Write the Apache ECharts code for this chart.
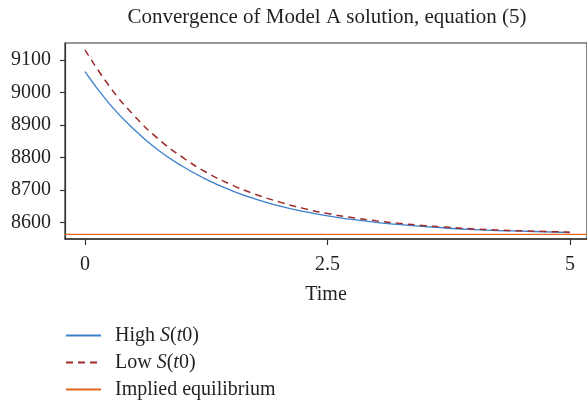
<!DOCTYPE html>
<html>
<head>
<meta charset="utf-8">
<script src="https://cdn.jsdelivr.net/npm/echarts@6/dist/echarts.min.js"></script>
<style>html,body{margin:0;padding:0;background:#fff}#c{width:587px;height:400px}</style>
</head>
<body>
<div id="c"></div>
<script>
var titleText = 'Convergence of Model A solution, equation (5)';
var xTitle = 'Time';
var time = [0, 0.25, 0.5, 0.75, 1.0, 1.25, 1.5, 1.75, 2.0, 2.25, 2.5, 2.75, 3.0, 3.25, 3.5, 3.75, 4.0, 4.25, 4.5, 4.75, 5.0];
var highS = [9064, 8966, 8888, 8824, 8774, 8733, 8700, 8673, 8652, 8635, 8621, 8610, 8601, 8594, 8588, 8583, 8579, 8576, 8574, 8572, 8570];
var lowS = [9131, 9020, 8931, 8859, 8802, 8755, 8718, 8688, 8664, 8644, 8628, 8616, 8606, 8598, 8591, 8586, 8581, 8578, 8575, 8573, 8571];
var equilibrium = 8564;
var xTicks = [0, 2.5, 5];
var yTicks = [8600, 8700, 8800, 8900, 9000, 9100];
var xRange = [-0.206, 5.175];
var yRange = [8550, 9152];
var seriesNames = ['High S(t0)', 'Low S(t0)', 'Implied equilibrium'];

var font = 'Liberation Serif';
var fs = 20;
var txt = '#231f20';
var chart = echarts.init(document.getElementById('c'), null, {renderer: 'canvas'});
function pairs(xs, ys) { return xs.map(function (x, i) { return [x, ys[i]]; }); }
var option = {
  animation: false,
  backgroundColor: '#fff',
  title: {
    text: titleText, left: 327, top: 7, padding: 0, textAlign: 'center',
    textStyle: {fontFamily: font, fontSize: 21, fontWeight: 'normal', color: txt}
  },
  grid: {left: 65, top: 43, right: -2, bottom: 161, show: true, borderColor: '#333', borderWidth: 1.2},
  legend: {
    orient: 'vertical', left: 65, top: 325, padding: 0, itemWidth: 35, itemHeight: 14, itemGap: 6,
    height: 75,
    itemStyle: {opacity: 0},
    textStyle: {
      fontFamily: font, fontSize: fs, color: txt, padding: [0, 0, 0, 9], lineHeight: 21,
      rich: {
        a: {fontFamily: font, fontSize: fs, color: txt, lineHeight: 21},
        i: {fontFamily: font, fontSize: fs, fontStyle: 'italic', color: txt, lineHeight: 21}
      }
    },
    formatter: function (name) {
      if (name === seriesNames[0]) return '{a|High }{i|S}{a|(}{i|t}{a|0)}';
      if (name === seriesNames[1]) return '{a|Low }{i|S}{a|(}{i|t}{a|0)}';
      return '{a|' + name + '}';
    },
    data: seriesNames
  },
  xAxis: {
    type: 'value', min: xRange[0], max: xRange[1],
    name: xTitle, nameLocation: 'middle', nameGap: 46,
    nameTextStyle: {fontFamily: font, fontSize: fs, color: txt},
    axisLine: {show: true, onZero: false, lineStyle: {color: '#333', width: 1.5}},
    axisTick: {show: true, length: 6, customValues: xTicks, lineStyle: {color: '#333', width: 1.2}},
    axisLabel: {customValues: xTicks, margin: 16, fontFamily: font, fontSize: fs, color: txt,
      formatter: function (v) { return String(v); }},
    splitLine: {show: false}
  },
  yAxis: {
    type: 'value', min: yRange[0], max: yRange[1],
    axisLine: {show: true, onZero: false, lineStyle: {color: '#333', width: 1.2}},
    axisTick: {show: true, length: 5, customValues: yTicks, lineStyle: {color: '#333', width: 1.2}},
    axisLabel: {customValues: yTicks, margin: 14, fontFamily: font, fontSize: fs, color: txt,
      formatter: function (v) { return String(v); }},
    splitLine: {show: false}
  },
  series: [
    {name: seriesNames[0], type: 'line', data: pairs(time, highS), showSymbol: false, symbol: 'none',
      smooth: true, lineStyle: {color: '#3b7fcf', width: 1.3}, itemStyle: {color: '#3b7fcf'}, z: 3},
    {name: seriesNames[1], type: 'line', data: pairs(time, lowS), showSymbol: false, symbol: 'none',
      smooth: true, lineStyle: {color: '#9e2a2b', width: 1.5, type: [7, 5]}, itemStyle: {color: '#9e2a2b'}, z: 4},
    {name: seriesNames[2], type: 'line', data: [[xRange[0], equilibrium], [xRange[1], equilibrium]],
      showSymbol: false, symbol: 'none', lineStyle: {color: '#e2691f', width: 1.3}, itemStyle: {color: '#e2691f'}, z: 2}
  ]
};
chart.setOption(option);
</script>
</body>
</html>
